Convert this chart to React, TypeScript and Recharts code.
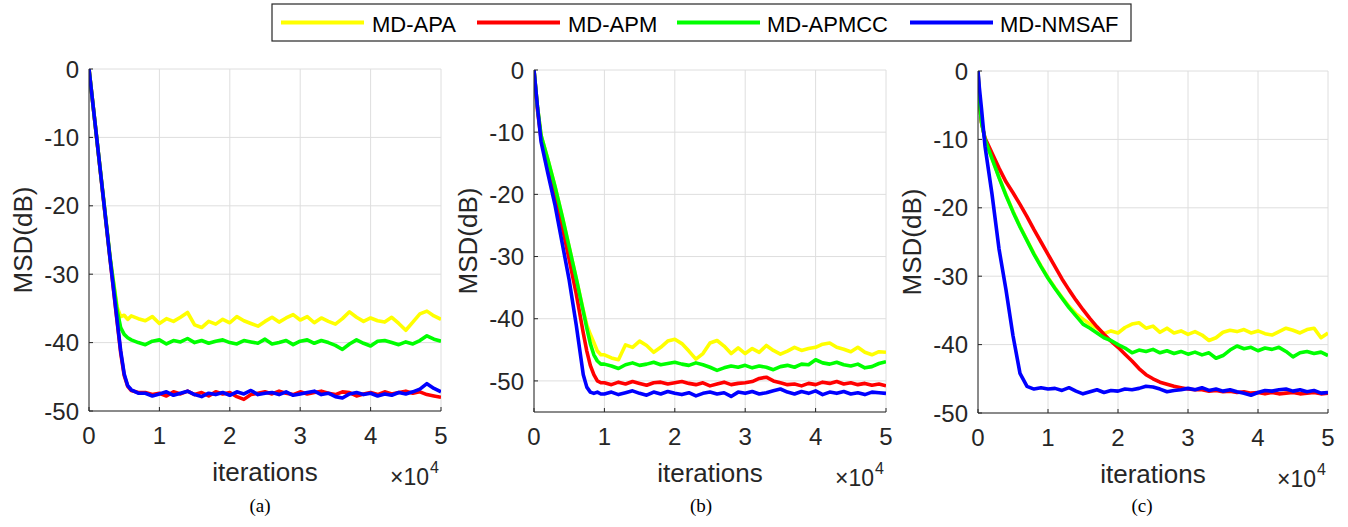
import React from 'react';
import { LineChart, Line, XAxis, YAxis, CartesianGrid } from 'recharts';

// --- x positions (×10^4 iterations) ---
const xA = [0, 0.1, 0.2, 0.3, 0.4, 0.45, 0.5, 0.55, 0.6, 0.7,
  0.8, 0.9, 1.0, 1.1, 1.2, 1.3, 1.4, 1.5, 1.6, 1.7, 1.8, 1.9, 2.0, 2.1, 2.2, 2.3, 2.4, 2.5, 2.6, 2.7, 2.8, 2.9,
  3.0, 3.1, 3.2, 3.3, 3.4, 3.5, 3.6, 3.7, 3.8, 3.9, 4.0, 4.1, 4.2, 4.3, 4.4, 4.5, 4.6, 4.7, 4.8, 4.9, 5.0];
const xB = [0, 0.05, 0.1, 0.2, 0.3, 0.4, 0.5, 0.6, 0.7, 0.75, 0.8, 0.85, 0.9, 0.95,
  1.0, 1.1, 1.2, 1.3, 1.4, 1.5, 1.6, 1.7, 1.8, 1.9, 2.0, 2.1, 2.2, 2.3, 2.4, 2.5, 2.6, 2.7, 2.8, 2.9,
  3.0, 3.1, 3.2, 3.3, 3.4, 3.5, 3.6, 3.7, 3.8, 3.9, 4.0, 4.1, 4.2, 4.3, 4.4, 4.5, 4.6, 4.7, 4.8, 4.9, 5.0];
const xC = [0, 0.02, 0.05, 0.1, 0.2, 0.3, 0.4, 0.5, 0.6, 0.7, 0.8, 0.9,
  1.0, 1.1, 1.2, 1.3, 1.4, 1.5, 1.6, 1.7, 1.8, 1.9, 2.0, 2.1, 2.2, 2.3, 2.4, 2.5, 2.6, 2.7, 2.8, 2.9,
  3.0, 3.1, 3.2, 3.3, 3.4, 3.5, 3.6, 3.7, 3.8, 3.9, 4.0, 4.1, 4.2, 4.3, 4.4, 4.5, 4.6, 4.7, 4.8, 4.9, 5.0];

// --- panel (a) MSD in dB ---
const aApa = [0, -9.2, -18.4, -27.6, -34.8, -36.2, -36.0, -36.6, -36.1, -36.5,
  -36.8, -36.2, -37.2, -36.5, -36.9, -36.3, -35.6, -37.4, -37.8, -36.9, -37.3, -36.6, -37.1, -36.2, -36.8, -37.2, -37.6, -36.9, -36.3, -37.0, -36.4, -35.9,
  -36.7, -36.2, -37.1, -36.4, -36.9, -37.3, -36.5, -35.5, -36.3, -36.9, -36.4, -36.8, -37.0, -36.3, -37.2, -38.2, -37.0, -35.8, -35.4, -36.1, -36.6];
const aApm = [0, -9.3, -18.6, -27.9, -37.0, -41.5, -44.8, -46.4, -47.0, -47.3,
  -47.3, -47.6, -47.4, -47.8, -47.2, -47.5, -47.1, -47.6, -47.3, -47.8, -47.2, -47.5, -47.3, -47.9, -48.3, -47.6, -47.4, -47.2, -47.5, -47.1, -47.4, -47.6,
  -47.2, -47.5, -47.3, -47.1, -47.4, -47.6, -47.2, -47.3, -47.8, -47.5, -47.3, -47.6, -47.2, -47.5, -47.3, -47.1, -47.4, -47.2, -47.6, -47.8, -48.0];
const aApmcc = [0, -9.2, -18.4, -27.6, -35.3, -37.8, -38.8, -39.3, -39.6, -40.0,
  -40.3, -39.8, -39.6, -40.2, -39.7, -39.9, -39.4, -40.0, -39.7, -40.1, -39.8, -39.6, -40.0, -40.2, -39.7, -39.9, -40.1, -39.5, -40.2, -40.0, -39.7, -40.3,
  -39.8, -39.6, -40.1, -39.7, -40.0, -40.4, -41.0, -40.2, -39.6, -40.1, -40.5, -39.8, -39.7, -40.0, -40.3, -39.9, -40.2, -39.7, -39.0, -39.5, -39.8];
const aNmsaf = [0, -9.2, -18.5, -27.8, -36.8, -41.2, -44.6, -46.3, -46.9, -47.4,
  -47.4, -47.8, -47.5, -47.2, -47.7, -47.4, -47.1, -47.6, -47.9, -47.4, -47.6, -47.3, -47.7, -47.2, -47.5, -47.0, -47.6, -47.4, -47.3, -47.6, -47.2, -47.7,
  -47.5, -47.3, -47.1, -47.6, -47.4, -47.9, -48.1, -47.5, -47.3, -47.6, -47.4, -47.8, -47.5, -47.7, -47.3, -47.5, -47.2, -46.8, -46.0, -46.7, -47.2];

// --- panel (b) ---
const bApa = [0, -6, -10.5, -14.5, -18.8, -23.5, -28.5, -33.5, -38.6, -41.0, -42.5, -43.8, -45.2, -45.8,
  -45.8, -46.3, -46.6, -44.2, -44.6, -43.6, -44.3, -45.4, -44.6, -43.6, -43.3, -44.0, -45.2, -46.5, -45.6, -43.9, -43.5, -44.4, -45.6, -44.7,
  -45.6, -44.8, -45.4, -44.3, -45.1, -45.7, -45.2, -44.6, -45.1, -44.8, -44.6, -44.1, -43.9, -44.6, -44.9, -45.3, -44.6, -45.4, -45.8, -45.3, -45.4];
const bApm = [0, -6.5, -11, -15.8, -20.2, -25.2, -30.5, -36, -42.3, -45.2, -47.5, -49.0, -50.0, -50.3,
  -50.3, -50.6, -50.2, -50.5, -50.1, -50.4, -50.7, -50.3, -50.2, -50.5, -50.3, -50.1, -50.4, -50.6, -50.3, -50.8, -50.5, -50.2, -50.6, -50.4,
  -50.3, -50.1, -49.6, -49.4, -50.0, -50.3, -50.6, -50.5, -50.8, -50.4, -50.6, -50.2, -50.4, -50.1, -50.5, -50.3, -50.6, -50.4, -50.7, -50.5, -50.8];
const bApmcc = [0, -6, -10.5, -14.5, -18.8, -23.5, -28.5, -33.5, -38.8, -41.5, -44, -45.8, -46.8, -47.3,
  -47.3, -47.6, -48.0, -47.4, -47.1, -47.5, -47.3, -47.0, -47.4, -47.2, -47.0, -47.3, -47.5, -47.1, -47.4, -47.8, -48.3, -47.9, -47.6, -47.8,
  -47.5, -47.9, -47.6, -47.8, -48.2, -47.7, -47.5, -47.8, -47.3, -47.4, -46.6, -47.1, -47.3, -47.0, -47.4, -47.6, -47.3, -47.9, -47.7, -47.2, -46.9];
const bNmsaf = [0, -6, -11.5, -16.8, -21.8, -27.8, -33.8, -41.0, -49.0, -51.0, -51.8, -52.0, -51.8, -52.1,
  -52.1, -51.8, -52.2, -51.9, -51.6, -52.0, -52.3, -51.8, -52.1, -51.7, -52.0, -52.2, -51.9, -52.4, -52.0, -51.8, -52.1, -51.9, -52.5, -51.8,
  -52.0, -51.7, -52.1, -51.9, -51.6, -51.3, -51.8, -52.1, -51.7, -52.0, -51.6, -52.2, -51.8, -52.0, -51.7, -52.1, -51.9, -52.2, -51.8, -51.9, -52.0];

// --- panel (c) ---
const cApa = [0, -4.5, -7.5, -10, -12.7, -15.5, -18.1, -20.5, -22.7, -24.7, -26.7, -28.5,
  -30.2, -31.7, -33.1, -34.4, -35.5, -36.3, -37.0, -37.6, -38.4, -38.0, -38.3, -37.5, -37.0, -36.8, -37.6, -37.3, -38.2, -37.6, -38.3, -38.0,
  -38.5, -38.1, -38.6, -39.4, -39.0, -38.2, -37.9, -38.1, -37.8, -38.3, -38.0, -38.4, -38.6, -38.1, -37.6, -37.9, -38.3, -37.8, -37.6, -39.0, -38.3];
const cApm = [0, -4.5, -7.5, -9.8, -12, -14.2, -16.2, -17.8, -19.5, -21.3, -23.2, -25.0,
  -26.8, -28.6, -30.4, -32.0, -33.5, -34.9, -36.2, -37.4, -38.5, -39.5, -40.4, -41.4, -42.4, -43.5, -44.4, -45.0, -45.5, -45.8, -46.1, -46.3,
  -46.5, -46.6, -46.6, -46.8, -46.7, -46.9, -46.8, -47.0, -46.9, -47.1, -47.0, -47.2, -47.0, -47.2, -47.1, -47.0, -47.2, -47.1, -47.0, -47.2, -47.1];
const cApmcc = [0, -4.5, -7.5, -10, -12.8, -15.6, -18.2, -20.6, -22.8, -24.8, -26.8, -28.6,
  -30.3, -31.8, -33.2, -34.6, -35.8, -37.0, -37.6, -38.3, -39.0, -39.4, -40.0, -40.5, -41.2, -40.8, -41.0, -40.7, -41.2, -40.9, -41.3, -41.0,
  -41.4, -41.1, -41.5, -41.2, -42.0, -41.6, -40.8, -40.2, -40.6, -40.4, -40.9, -40.5, -40.7, -40.4, -41.0, -41.8, -41.2, -41.0, -41.3, -41.1, -41.6];
const cNmsaf = [0, -2.5, -5.5, -11, -18, -26, -32, -38.7, -44.2, -46.1, -46.5, -46.3,
  -46.5, -46.4, -46.7, -46.3, -46.8, -47.2, -46.9, -46.6, -47.0, -46.7, -46.8, -46.5, -46.6, -46.4, -46.1, -46.2, -46.5, -46.9, -46.7, -46.6,
  -46.4, -46.6, -46.3, -46.7, -46.5, -46.8, -46.6, -46.9, -47.1, -47.4, -47.0, -46.7, -46.8, -46.6, -46.5, -46.8, -46.6, -46.9, -46.7, -47.1, -47.0];

const xTicks = [0, 1, 2, 3, 4, 5];
const yTicks = [-50, -40, -30, -20, -10, 0];

const series = [
  { key: 'apa', name: 'MD-APA', color: '#ffff00' },
  { key: 'apm', name: 'MD-APM', color: '#ff0000' },
  { key: 'apmcc', name: 'MD-APMCC', color: '#00ff00' },
  { key: 'nmsaf', name: 'MD-NMSAF', color: '#0000ff' },
];

const FONT = '"Liberation Sans", Arial, Helvetica, sans-serif';
const AXIS = '#262626';
const PAD = 24; // room above/right of each plot box inside its chart

const buildRows = (x: number[], apa: number[], apm: number[], apmcc: number[], nmsaf: number[]) =>
  x.map((v, i) => ({ x: v, apa: apa[i], apm: apm[i], apmcc: apmcc[i], nmsaf: nmsaf[i] }));

const panels = [
  { id: 'a', data: buildRows(xA, aApa, aApm, aApmcc, aNmsaf), yMin: -50, left: 89, top: 69, w: 352, h: 342, caption: '(a)', capX: 260 },
  { id: 'b', data: buildRows(xB, bApa, bApm, bApmcc, bNmsaf), yMin: -55, left: 534, top: 70, w: 352, h: 342, caption: '(b)', capX: 701 },
  { id: 'c', data: buildRows(xC, cApa, cApm, cApmcc, cNmsaf), yMin: -50, left: 978, top: 71, w: 350, h: 342, caption: '(c)', capX: 1142 },
];

// tick renderers: MATLAB style, marks point inward
const BottomTick = (props: any) => {
  const { x, y, payload } = props;
  return (
    <g>
      <line x1={x} y1={y} x2={x} y2={y - 4} stroke={AXIS} />
      <text x={x} y={y + 33} textAnchor="middle" fontSize={24} fontFamily={FONT} fill={AXIS}>{payload.value}</text>
    </g>
  );
};
const TopTick = (props: any) => {
  const { x, y } = props;
  return <line x1={x} y1={y} x2={x} y2={y + 4} stroke={AXIS} />;
};
const LeftTick = (props: any) => {
  const { x, y, payload } = props;
  return (
    <g>
      <line x1={x} y1={y} x2={x + 4} y2={y} stroke={AXIS} />
      <text x={x - 10} y={y} dy="0.36em" textAnchor="end" fontSize={24} fontFamily={FONT} fill={AXIS}>{payload.value}</text>
    </g>
  );
};
const RightTick = (props: any) => {
  const { x, y } = props;
  return <line x1={x} y1={y} x2={x - 4} y2={y} stroke={AXIS} />;
};

const Panel = ({ p }: { p: typeof panels[number] }) => (
  <div style={{ position: 'absolute', left: p.left - 80, top: p.top - PAD }}>
    <LineChart width={p.w + 80 + PAD} height={p.h + PAD + 50} data={p.data} margin={{ top: PAD, right: PAD, left: 0, bottom: 0 }}>
      <CartesianGrid stroke="#dedede" strokeWidth={1} />
      <XAxis dataKey="x" type="number" domain={[0, 5]} ticks={xTicks} interval={0} height={50}
        tickSize={0} tickMargin={0} tick={<BottomTick />} tickLine={false} stroke={AXIS} allowDataOverflow />
      <XAxis xAxisId="top" orientation="top" dataKey="x" type="number" domain={[0, 5]} ticks={xTicks} interval={0} height={0}
        tickSize={0} tickMargin={0} tick={<TopTick />} tickLine={false} stroke={AXIS} />
      <YAxis type="number" domain={[p.yMin, 0]} ticks={yTicks} interval={0} width={80}
        tickSize={0} tickMargin={0} tick={<LeftTick />} tickLine={false} stroke={AXIS} allowDataOverflow />
      <YAxis yAxisId="right" orientation="right" type="number" domain={[p.yMin, 0]} ticks={yTicks} interval={0} width={0}
        tickSize={0} tickMargin={0} tick={<RightTick />} tickLine={false} stroke={AXIS} />
      {series.map(s => (
        <Line key={s.key} type="linear" dataKey={s.key} name={s.name} stroke={s.color} strokeWidth={3.6}
          strokeLinejoin="round" dot={false} activeDot={false} isAnimationActive={false} />
      ))}
    </LineChart>
  </div>
);

const legendItems = [
  { lineX: 281, textX: 372 },
  { lineX: 477, textX: 568 },
  { lineX: 677, textX: 767 },
  { lineX: 910, textX: 1000 },
];

export default function App() {
  return (
    <div style={{ position: 'absolute', left: 0, top: 0, width: 1348, height: 527, background: '#fff', overflow: 'hidden' }}>
      {panels.map(p => <Panel key={p.id} p={p} />)}
      <svg width={1348} height={527} style={{ position: 'absolute', left: 0, top: 0, pointerEvents: 'none' }}>
        {/* legend */}
        <rect x={272} y={4} width={859} height={37} fill="#fff" stroke={AXIS} strokeWidth={1.2} />
        {series.map((s, i) => (
          <g key={s.key}>
            <line x1={legendItems[i].lineX} x2={legendItems[i].lineX + 83} y1={22.5} y2={22.5} stroke={s.color} strokeWidth={4} />
            <text x={legendItems[i].textX} y={31.5} fontSize={22} fontFamily={FONT} fill="#000">{s.name}</text>
          </g>
        ))}
        {panels.map(p => {
          const right = p.left + p.w;
          const bottom = p.top + p.h;
          return (
            <g key={p.id}>
              <text transform={`translate(${p.left - 66}, ${p.top + p.h / 2}) rotate(-90)`} textAnchor="middle" dy="0.35em"
                fontSize={26} fontFamily={FONT} fill={AXIS}>MSD(dB)</text>
              <text x={p.left + p.w / 2} y={bottom + 70} textAnchor="middle" fontSize={26} fontFamily={FONT} fill={AXIS}>iterations</text>
              <text x={right - 12} y={bottom + 74} textAnchor="end" fontSize={23} fontFamily={FONT} fill={AXIS}>×10</text>
              <text x={right - 11} y={bottom + 62} fontSize={16} fontFamily={FONT} fill={AXIS}>4</text>
              <text x={p.capX} y={512} textAnchor="middle" fontSize={19} fontFamily='"Liberation Serif", "Times New Roman", serif' fill="#000">{p.caption}</text>
            </g>
          );
        })}
      </svg>
    </div>
  );
}
